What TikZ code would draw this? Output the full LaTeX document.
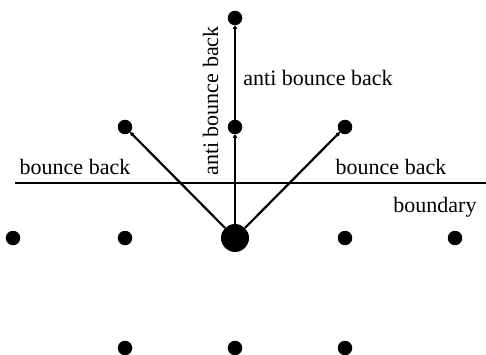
\documentclass[tikz,border=0pt]{standalone}
\usepackage{fontspec}
\setmainfont{Liberation Serif}
\usetikzlibrary{arrows.meta}
\begin{document}
\begin{tikzpicture}[x=1pt,y=-1pt,
  site/.style={circle,fill=black,inner sep=0pt,minimum size=14.5pt},
  bigsite/.style={circle,fill=black,inner sep=0pt,minimum size=28pt},
  link/.style={line width=2.2pt,-{Stealth[length=4.5pt,width=5.5pt,round]},shorten >=0pt},
  lbl/.style={font=\fontsize{22}{24}\selectfont,inner sep=0pt,anchor=base}]
\useasboundingbox (0,0) rectangle (486,355);
% lattice sites
\node[site] (a1) at (13,238) {};
\node[site] (a2) at (125,238) {};
\node[bigsite] (c) at (235,238) {};
\node[site] (a4) at (345,238) {};
\node[site] (a5) at (455,238) {};
\node[site] (b1) at (125,348) {};
\node[site] (b2) at (235,348) {};
\node[site] (b3) at (345,348) {};
\node[site] (ul) at (125,127) {};
\node[site] (um) at (235,127) {};
\node[site] (ur) at (345,127) {};
\node[site] (top) at (235,18) {};
% boundary line
\coordinate (bl) at (15,183);
\coordinate (br) at (486,183);
\draw[line width=2.2pt] (bl) -- (br);
% links
\draw[link] (c) -- (ul);
\draw[link] (c) -- (ur);
\draw[link] (c) -- (um);
\draw[link] (um) -- (top);
% labels
\node[lbl] (t1) at (75,175) {bounce back};
\node[lbl] (t2) at (391,175) {bounce back};
\node[lbl] (t3) at (435,212) {boundary};
\node[lbl] (t4) at (318,86) {anti bounce back};
\node[lbl,rotate=90] (t5) at (218,101) {anti bounce back};
\end{tikzpicture}
\end{document}
